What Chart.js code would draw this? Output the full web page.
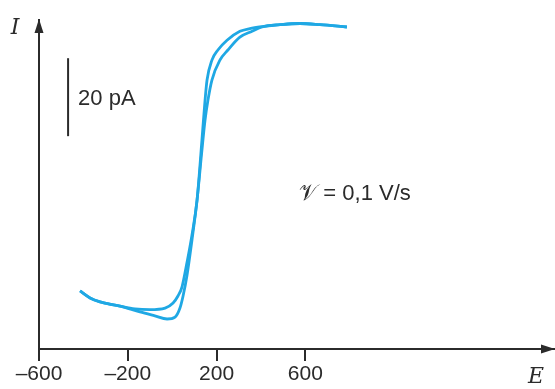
<!DOCTYPE html>
<html>
<head>
<meta charset="utf-8">
<script src="https://cdn.jsdelivr.net/npm/chart.js@4"></script>
<style>
  html, body { margin: 0; padding: 0; background: #fff; }
  #wrap { width: 555px; height: 389px; }
</style>
</head>
<body>
<div id="wrap"><canvas id="cv"></canvas></div>
<script>
// potential E (mV) and current I (pA), forward and return sweep
const fwdE = [-415, -370, -325, -235, -145, -78, -23, 13, 35, 49, 67, 89, 112, 134, 148, 161, 179, 215, 251, 305, 360, 405, 486, 576, 666, 787];
const fwdI = [14.9, 13.1, 12.1, 11.0, 9.5, 8.5, 7.7, 8.2, 10.5, 13.6, 19.0, 27.9, 38.2, 51.0, 58.7, 63.8, 69.0, 74.1, 76.7, 80.0, 81.5, 82.6, 83.2, 83.5, 83.2, 82.6];
const revE = [-415, -370, -325, -235, -168, -100, -32, 4, 26, 44, 67, 89, 112, 134, 148, 157, 179, 206, 247, 305, 350, 405, 486, 576, 666, 787];
const revI = [14.9, 13.1, 12.1, 11.0, 10.3, 10.1, 10.5, 11.8, 13.6, 15.9, 22.3, 29.2, 38.2, 53.6, 63.8, 69.0, 74.1, 76.7, 79.2, 81.5, 82.2, 82.7, 83.2, 83.5, 83.2, 82.6];

// 20 pA scale bar
const barE = [-469, -469];
const barI = [54.6, 74.6];

const tickValues = [-600, -200, 200, 600];
const tickLabels = ['\u2013600', '\u2013200', '200', '600'];

const ink = '#2b2b2b';
const blue = '#1fa8e4';

const pts = (xs, ys) => xs.map((x, i) => ({ x: x, y: ys[i] }));

// arrow heads on the axes and the free text
const extras = {
  id: 'extras',
  afterDraw(chart) {
    const c = chart.ctx;
    const a = chart.chartArea;
    const xs = chart.scales.x;
    const ys = chart.scales.y;
    c.save();
    c.fillStyle = ink;
    // x arrow
    c.beginPath();
    c.moveTo(a.right + 1, a.bottom);
    c.lineTo(a.right - 13, a.bottom - 4.5);
    c.lineTo(a.right - 13, a.bottom + 4.5);
    c.closePath();
    c.fill();
    // y arrow
    c.beginPath();
    c.moveTo(a.left, a.top - 1);
    c.lineTo(a.left - 4.5, a.top + 13);
    c.lineTo(a.left + 4.5, a.top + 13);
    c.closePath();
    c.fill();

    c.textBaseline = 'middle';
    c.font = 'italic 22px "DejaVu Serif", serif';
    c.textAlign = 'center';
    c.fillText('I', 15, 28);
    c.fillText('E', 536, 377);

    c.font = '22px "Liberation Sans", Arial, sans-serif';
    c.textAlign = 'left';
    c.fillText('20 pA', xs.getPixelForValue(barE[0]) + 10, ys.getPixelForValue(64.2));
    c.textAlign = 'center';
    c.fillText('\uD835\uDCB1 = 0,1 V/s', 355, 194);
    c.restore();
  }
};

new Chart(document.getElementById('cv'), {
  type: 'line',
  data: {
    datasets: [
      { data: pts(fwdE, fwdI), borderColor: blue, borderWidth: 2.8, pointRadius: 0, cubicInterpolationMode: 'monotone' },
      { data: pts(revE, revI), borderColor: blue, borderWidth: 2.8, pointRadius: 0, cubicInterpolationMode: 'monotone' },
      { data: pts(barE, barI), borderColor: ink, borderWidth: 2, pointRadius: 0 }
    ]
  },
  options: {
    responsive: true,
    maintainAspectRatio: false,
    animation: false,
    layout: { padding: { left: 39, top: 20, right: 1, bottom: 0 } },
    plugins: { legend: { display: false }, tooltip: { enabled: false } },
    scales: {
      x: {
        type: 'linear',
        min: -600,
        max: 1720,
        afterBuildTicks: (s) => { s.ticks = tickValues.map(v => ({ value: v })); },
        afterFit: (s) => { s.height = 40; },
        border: { display: true, color: ink, width: 2 },
        grid: { drawOnChartArea: false, drawTicks: true, tickLength: 12, color: ink, lineWidth: 2 },
        ticks: {
          color: ink,
          padding: 1,
          maxRotation: 0,
          autoSkip: false,
          font: { family: '"Liberation Sans", Arial, sans-serif', size: 21 },
          callback: (v) => tickLabels[tickValues.indexOf(v)]
        }
      },
      y: {
        type: 'linear',
        min: 0,
        max: 84.4,
        afterFit: (s) => { s.width = 0; },
        border: { display: true, color: ink, width: 2 },
        grid: { display: false },
        ticks: { display: false }
      }
    }
  },
  plugins: [extras]
});
</script>
</body>
</html>
